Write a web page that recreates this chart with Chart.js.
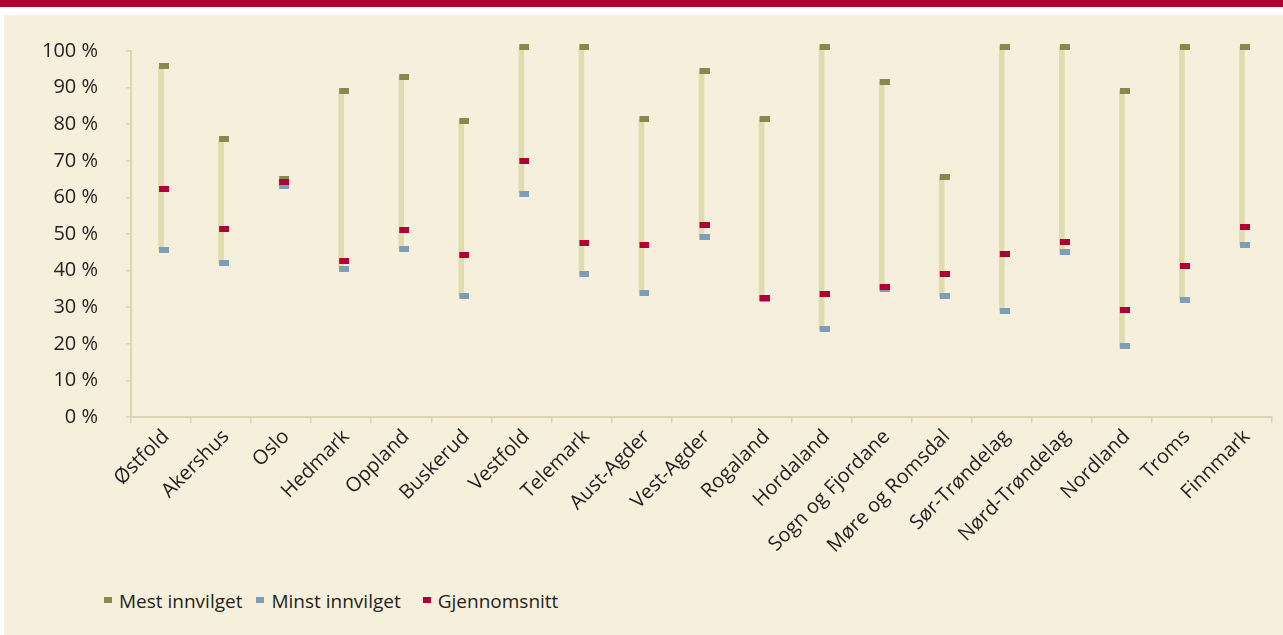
<!DOCTYPE html>
<html>
<head>
<meta charset="utf-8">
<script src="https://cdn.jsdelivr.net/npm/chart.js@4.4.1/dist/chart.umd.min.js"></script>
<style>
  body { margin: 0; background: #fff; font-family: "Open Sans", sans-serif; }
  #topp { position: absolute; left: 0; top: 0; width: 1283px; height: 7px; background: #ac0033; }
  #boks { position: absolute; left: 4px; top: 15px; width: 1279px; height: 620px; background: #f6efdc; }
  #ramme { position: absolute; left: 0; top: -4px; width: 1279px; height: 564px; }
  #forklaring { position: absolute; left: 100px; top: 573px; display: flex; font-size: 19px; color: #231f20; }
  #forklaring span.punkt { display: inline-block; width: 8px; height: 6px; margin: 0 7px 0 0; position: relative; top: -1px; }
  #forklaring div { display: flex; align-items: center; }
</style>
</head>
<body>
<div id="topp"></div>
<div id="boks">
  <div id="ramme"><canvas id="graf"></canvas></div>
  <div id="forklaring"></div>
</div>
<script>
  const fylker = ["Østfold", "Akershus", "Oslo", "Hedmark", "Oppland", "Buskerud", "Vestfold", "Telemark",
    "Aust-Agder", "Vest-Agder", "Rogaland", "Hordaland", "Sogn og Fjordane", "Møre og Romsdal",
    "Sør-Trøndelag", "Nørd-Trøndelag", "Nordland", "Troms", "Finnmark"];
  const mest = [96, 76, 65, 89, 93, 81, 101, 101, 81.5, 94.5, 81.5, 101, 91.5, 65.5, 101, 101, 89, 101, 101];
  const minst = [45.5, 42, 63, 40.5, 46, 33, 61, 39, 34, 49.3, 32.2, 24, 35.1, 33, 29, 45, 19.3, 32, 47];
  const snitt = [62.3, 51.5, 64.3, 42.7, 51, 44.2, 70, 47.5, 47, 52.5, 32.6, 33.5, 35.4, 39, 44.6, 47.8, 29.2, 41.2, 51.8];
  const yTicks = [0, 10, 20, 30, 40, 50, 60, 70, 80, 90, 100];

  const farger = { mest: "#8c874f", minst: "#7b9ebb", snitt: "#b00036", linje: "#e1dcae" };

  // liten rektangel-markør, litt forskjøvet til høyre for linja
  function lagMarkor(farge) {
    const c = document.createElement("canvas");
    c.width = 16; c.height = 6;
    const g = c.getContext("2d");
    g.fillStyle = farge;
    g.fillRect(6, 0, 10, 6);
    return c;
  }

  function serie(navn, data, farge, rekkefolge) {
    return {
      type: "line",
      label: navn,
      data: data,
      showLine: false,
      pointStyle: lagMarkor(farge),
      pointRadius: 5,
      pointHoverRadius: 5,
      backgroundColor: farge,
      borderColor: farge,
      clip: false,
      order: rekkefolge
    };
  }

  const ctx = document.getElementById("graf").getContext("2d");
  const grafikk = new Chart(ctx, {
    type: "bar",
    data: {
      labels: fylker,
      datasets: [
        {
          label: "spenn",
          data: fylker.map((f, i) => [minst[i], mest[i]]),
          backgroundColor: farger.linje,
          barThickness: 5,
          clip: false,
          order: 10
        },
        serie("Mest innvilget", mest, farger.mest, 3),
        serie("Minst innvilget", minst, farger.minst, 2),
        serie("Gjennomsnitt", snitt, farger.snitt, 1)
      ]
    },
    options: {
      responsive: true,
      maintainAspectRatio: false,
      animation: false,
      layout: { padding: { top: 31, right: 11, left: 0, bottom: 0 } },
      plugins: {
        legend: { display: false },
        tooltip: { enabled: false }
      },
      scales: {
        x: {
          offset: true,
          grid: { offset: true, drawOnChartArea: false, tickLength: 6, color: "#ddd3b6", lineWidth: 1.5 },
          border: { color: "#ddd3b6", width: 2 },
          ticks: {
            autoSkip: false, minRotation: 45, maxRotation: 45, labelOffset: 5,
            color: "#231f20", font: { family: "Open Sans", size: 20 }, padding: 2
          },
          afterFit: s => { s.height = 158; }
        },
        y: {
          min: 0, max: 100,
          grid: { drawOnChartArea: false, tickLength: 5, color: "#ddd3b6", lineWidth: 1.5 },
          border: { color: "#ddd3b6", width: 2 },
          afterBuildTicks: s => { s.ticks = yTicks.map(v => ({ value: v })); },
          ticks: {
            color: "#231f20", font: { family: "Open Sans", size: 20 }, padding: 28,
            callback: v => v + " %"
          },
          afterFit: s => { s.width = 127; }
        }
      }
    }
  });

  // forklaring
  const forklaring = document.getElementById("forklaring");
  const mellomrom = [14, 22, 0];
  grafikk.data.datasets.slice(1).forEach((d, i) => {
    const el = document.createElement("div");
    el.style.marginRight = mellomrom[i] + "px";
    el.innerHTML = '<span class="punkt" style="background:' + d.backgroundColor + '"></span>' + d.label;
    forklaring.appendChild(el);
  });
</script>
</body>
</html>
